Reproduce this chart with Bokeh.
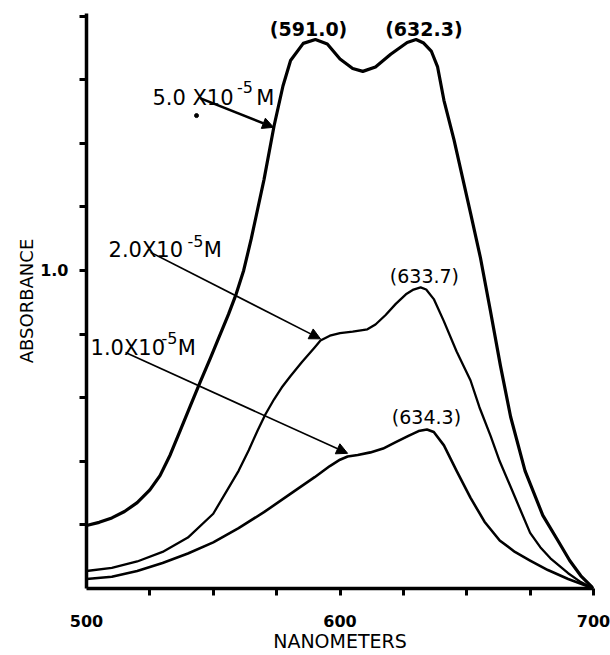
from bokeh.plotting import figure
from bokeh.models import (Range1d, FixedTicker, Arrow, NormalHead, ColumnDataSource,
                          PrintfTickFormatter)
from bokeh.core.properties import value
from bokeh.embed import file_html
from bokeh.resources import INLINE

# ---- data ----
wl_5 = [500, 505, 510, 515, 520, 525, 529, 533, 537, 541, 545, 549, 552, 556, 559, 562, 565,
        570, 574, 577.5, 580.5, 585.5, 590.3, 595, 600, 605, 609, 614, 620, 626.5, 630, 633,
        636, 638.5, 641, 645, 651.5, 655.4, 659.4, 663.3, 667.3, 673, 680, 686, 690.6, 695, 700]
abs_5 = [0.198, 0.208, 0.222, 0.242, 0.27, 0.31, 0.355, 0.42, 0.497, 0.575, 0.652, 0.727, 0.785,
         0.862, 0.925, 1.0, 1.10, 1.285, 1.455, 1.58, 1.66, 1.714, 1.726, 1.712, 1.665, 1.635,
         1.626, 1.64, 1.68, 1.717, 1.726, 1.715, 1.69, 1.64, 1.535, 1.41, 1.18, 1.04, 0.87,
         0.70, 0.54, 0.37, 0.23, 0.15, 0.088, 0.04, 0.0]

wl_2 = [500, 510, 520, 530, 540, 550, 560, 564, 567.5, 570.6, 574, 577, 580.5, 585, 590, 592.3,
        596, 600, 605, 610.8, 614, 618, 622, 626, 629, 631.8, 634, 637, 641, 646, 651.5, 655,
        659.4, 663, 667.3, 671, 675, 679, 683, 690, 695, 700]
abs_2 = [0.055, 0.065, 0.085, 0.115, 0.16, 0.235, 0.37, 0.435, 0.497, 0.548, 0.595, 0.632,
         0.668, 0.712, 0.758, 0.78, 0.795, 0.803, 0.808, 0.815, 0.83, 0.86, 0.895, 0.925, 0.94,
         0.947, 0.94, 0.91, 0.84, 0.745, 0.654, 0.57, 0.48, 0.40, 0.32, 0.25, 0.175, 0.13,
         0.095, 0.048, 0.02, 0.0]

wl_1 = [500, 510, 520, 530, 540, 550, 560, 570, 580, 590, 596, 600, 603, 607, 612, 617, 622,
        627, 631, 634.3, 637, 641, 646, 651.5, 657, 663, 669, 675, 682, 690, 700]
abs_1 = [0.03, 0.037, 0.055, 0.08, 0.11, 0.145, 0.19, 0.24, 0.295, 0.35, 0.385, 0.405, 0.415,
         0.42, 0.428, 0.44, 0.46, 0.48, 0.495, 0.50, 0.492, 0.45, 0.37, 0.285, 0.21, 0.151,
         0.115, 0.088, 0.058, 0.03, 0.0]

x_major_ticks = [500, 600, 700]
x_minor_ticks = [525, 550, 575, 600, 625, 650, 675, 700]
y_major_ticks = [1.0]
y_minor_ticks = [0.2, 0.4, 0.6, 0.8, 1.0, 1.2, 1.4, 1.6, 1.8]

peak_texts_top = ["(591.0)", "(632.3)"]
peak_texts_low = ["(633.7)", "(634.3)"]
conc_main = ["5.0 X10", "2.0X10", "1.0X10"]
conc_exp = ["-5", "-5", "-5"]
conc_unit = ["M", "M", "M"]

speck_x = [543.4]
speck_y = [1.487]

FONT = "DejaVu Sans"

p = figure(width=610, height=655, output_backend="svg", toolbar_location=None,
           x_range=Range1d(500, 700), y_range=Range1d(0, 1.808),
           min_border_left=86, min_border_right=17, min_border_top=13, min_border_bottom=67)
p.outline_line_color = None
p.grid.visible = False
p.background_fill_color = "white"
p.border_fill_color = "white"

# axes
xa = p.xaxis[0]
xa.ticker = FixedTicker(ticks=x_major_ticks, minor_ticks=x_minor_ticks)
xa.axis_line_width = 3.5
xa.axis_line_color = "black"
xa.major_tick_out = 0
xa.major_tick_in = 0
xa.minor_tick_out = 7
xa.minor_tick_in = 0
xa.minor_tick_line_width = 3
xa.minor_tick_line_color = "black"
xa.major_label_standoff = 19
xa.major_label_text_font = FONT
xa.major_label_text_font_style = "bold"
xa.major_label_text_font_size = "16px"
xa.major_label_text_color = "black"
xa.axis_label = "NANOMETERS"
xa.axis_label_text_font = FONT
xa.axis_label_text_font_style = "normal"
xa.axis_label_text_font_size = "19px"
xa.axis_label_text_color = "black"
xa.axis_label_standoff = 0

ya = p.yaxis[0]
ya.ticker = FixedTicker(ticks=y_major_ticks, minor_ticks=y_minor_ticks)
ya.formatter = PrintfTickFormatter(format="%.1f")
ya.axis_line_width = 3.5
ya.axis_line_color = "black"
ya.major_tick_out = 0
ya.major_tick_in = 0
ya.minor_tick_out = 7
ya.minor_tick_in = 0
ya.minor_tick_line_width = 3
ya.minor_tick_line_color = "black"
ya.major_label_standoff = 11
ya.major_label_text_font = FONT
ya.major_label_text_font_style = "bold"
ya.major_label_text_font_size = "16px"
ya.major_label_text_color = "black"
ya.axis_label = "ABSORBANCE"
ya.axis_label_text_font = FONT
ya.axis_label_text_font_style = "normal"
ya.axis_label_text_font_size = "18px"
ya.axis_label_text_color = "black"
ya.axis_label_standoff = 0

# curves
p.line(wl_5, abs_5, line_color="black", line_width=3.2, line_join="round")
p.line(wl_2, abs_2, line_color="black", line_width=2.3, line_join="round")
p.line(wl_1, abs_1, line_color="black", line_width=2.6, line_join="round")

p.scatter(speck_x, speck_y, size=4, color="black")

# peak labels
top_src = ColumnDataSource(dict(x=[587.6, 633.1], y=[1.758, 1.758], t=peak_texts_top))
p.text(x="x", y="y", text="t", source=top_src, text_font=value(FONT),
       text_font_size="19px", text_font_style="bold", text_align="center",
       text_baseline="middle", text_color="black")
low_src = ColumnDataSource(dict(x=[633.3, 634.1], y=[0.984, 0.538], t=peak_texts_low))
p.text(x="x", y="y", text="t", source=low_src, text_font=value(FONT),
       text_font_size="19px", text_align="center", text_baseline="middle",
       text_color="black")

# concentration labels (main part, exponent, unit)
main_src = ColumnDataSource(dict(x=[526.0, 508.7, 501.6], y=[1.541, 1.063, 0.755], t=conc_main))
p.text(x="x", y="y", text="t", source=main_src, text_font=value(FONT),
       text_font_size="21px", text_align="left", text_baseline="alphabetic", text_color="black")
exp_src = ColumnDataSource(dict(x=[559.4, 539.8, 529.6], y=[1.578, 1.094, 0.789], t=conc_exp))
p.text(x="x", y="y", text="t", source=exp_src, text_font=value(FONT),
       text_font_size="16px", text_align="left", text_baseline="alphabetic", text_color="black")
unit_src = ColumnDataSource(dict(x=[567.0, 546.3, 536.0], y=[1.541, 1.063, 0.755], t=conc_unit))
p.text(x="x", y="y", text="t", source=unit_src, text_font=value(FONT),
       text_font_size="21px", text_align="left", text_baseline="alphabetic", text_color="black")

# arrows
p.add_layout(Arrow(end=NormalHead(size=11, fill_color="black", line_color="black", line_width=1),
                   x_start=545.0, y_start=1.541, x_end=573.8, y_end=1.45,
                   line_width=2.5, line_color="black"))
p.add_layout(Arrow(end=NormalHead(size=11, fill_color="black", line_color="black", line_width=1),
                   x_start=525.3, y_start=1.057, x_end=592.3, y_end=0.785,
                   line_width=1.6, line_color="black"))
p.add_layout(Arrow(end=NormalHead(size=11, fill_color="black", line_color="black", line_width=1),
                   x_start=515.4, y_start=0.742, x_end=603.0, y_end=0.425,
                   line_width=1.6, line_color="black"))

open("out.html", "w").write(file_html(p, INLINE))
